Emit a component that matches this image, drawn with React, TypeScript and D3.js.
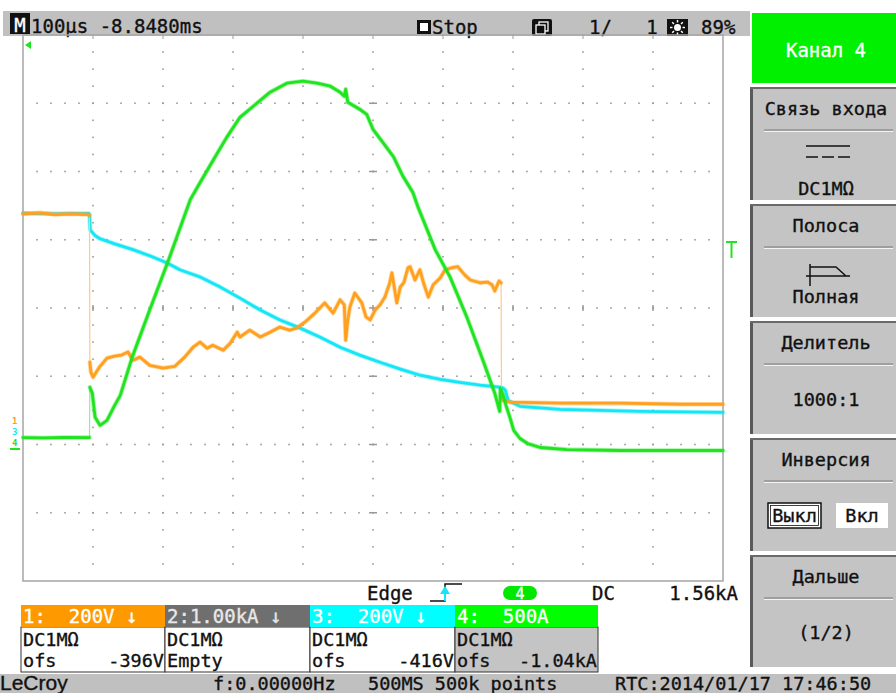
import React from 'react';
import * as d3 from 'd3';

// time: µs from the left edge of the screen (100 µs/div), values in V or A
const ch1Points: [number, number][] = [
  [0, 672], [24, 675], [46, 670], [67, 672], [94, 670], [95, 667], [95.5, 237], [97, 208],
  [100, 193], [110, 225], [120, 249], [131, 255], [141, 258], [150, 267], [157, 243], [167, 252],
  [181, 228], [200, 220], [217, 225], [231, 252], [243, 281], [253, 296], [263, 278], [271, 287],
  [286, 272], [296, 293], [306, 325], [310, 311], [324, 331], [339, 311], [353, 325], [367, 340],
  [381, 331], [391, 337], [403, 355], [417, 381], [431, 411], [443, 381], [453, 420], [459, 405],
  [461, 302], [464, 361], [467, 399], [474, 440], [484, 411], [490, 370], [496, 361], [503, 390],
  [510, 405], [517, 428], [524, 470], [527, 499], [534, 411], [539, 458], [544, 470], [550, 514],
  [553, 517], [560, 478], [567, 508], [573, 464], [579, 428], [586, 464], [596, 484], [603, 508],
  [613, 514], [621, 517], [631, 493], [639, 478], [653, 470], [664, 472], [670, 464], [674, 446],
  [680, 475], [683, 470], [683.5, 140], [686, 125], [696, 120], [767, 117], [853, 117], [939, 114],
  [1000, 114],
];

const ch3Points: [number, number][] = [
  [0, 694], [40, 692], [94, 693], [95, 690], [96, 645], [103, 628], [110, 619], [131, 604],
  [157, 587], [181, 569], [206, 548], [224, 528], [253, 507], [281, 478], [310, 445], [339, 410],
  [367, 381], [396, 357], [424, 331], [453, 301], [481, 278], [510, 257], [539, 237], [567, 219],
  [596, 207], [624, 198], [653, 190], [681, 184], [686, 181], [689, 175], [693, 145], [710, 128],
  [767, 119], [881, 113], [1000, 110],
];

const ch4Points: [number, number][] = [
  [0, 91], [30, 88], [60, 92], [94, 91], [95, 91], [95.5, 459], [99, 415], [103, 239],
  [110, 180], [120, 216], [131, 327], [139, 400], [156, 680], [181, 1025], [207, 1378], [239, 1834],
  [253, 1959], [274, 2143], [291, 2290], [310, 2437], [329, 2518], [353, 2621], [377, 2687], [400, 2702],
  [420, 2687], [439, 2665], [453, 2621], [459, 2591], [461, 2643], [464, 2547], [481, 2496], [491, 2459],
  [500, 2349], [514, 2253], [529, 2150], [543, 2003], [557, 1886], [564, 1783], [589, 1466], [610, 1268],
  [634, 974], [657, 658], [674, 415], [681, 283], [682, 452], [686, 400], [690, 327], [696, 231],
  [701, 143], [710, 84], [721, 47], [739, 18], [777, 3], [853, -4], [1000, -4],
];

// per-div and offset of each channel
const chPerDiv = [200, 1000, 200, 500];
const chOffset = [-396, 0, -416, -1040];

const chHeaders = ['1:  200V ↓', '2:1.00kA ↓', '3:  200V ↓', '4:  500A'];
const chCoupling = ['DC1MΩ', 'DC1MΩ', 'DC1MΩ', 'DC1MΩ'];
const chOfsText = ['-396V', '', '-416V', '-1.04kA'];

const panelTitles = ['Связь входа', 'Полоса', 'Делитель', 'Инверсия', 'Дальше'];
const panelValues = ['DC1MΩ', 'Полная', '1000:1', '', '(1/2)'];

const mono = "'DejaVu Sans Mono', 'Liberation Mono', monospace";
const PL = 23, PR = 723, PT = 35, PB = 581;

function splitEdges(pts: [number, number][], sx: (v: number) => number, sy: (v: number) => number) {
  const out: [number, number][][] = [[]];
  pts.forEach((p, i) => {
    if (i > 0) {
      const q = pts[i - 1];
      if (Math.abs(sy(p[1]) - sy(q[1])) > 40 && sx(p[0]) - sx(q[0]) < 3) out.push([]);
    }
    out[out.length - 1].push(p);
  });
  return out;
}

// slightly emboldened text, like the scope's bitmap font
function Txt(props: any) {
  const { fill = '#111', size = 18.5, children, ...rest } = props;
  return (
    <text fill={fill} stroke={fill} strokeWidth={0.35} fontSize={size} xmlSpace="preserve" {...rest}>
      {children}
    </text>
  );
}

export default function App() {
  const x = d3.scaleLinear().domain([0, 1000]).range([PL, PR]);
  const yDiv = d3.scaleLinear().domain([-4, 4]).range([PB, PT]);
  const yCh = (i: number) =>
    d3.scaleLinear()
      .domain([-chOffset[i] - 4 * chPerDiv[i], -chOffset[i] + 4 * chPerDiv[i]])
      .range([PB, PT]);

  // grid dots
  const dots: [number, number][] = [];
  d3.range(-3, 4).forEach(d => d3.range(20, 1000, 20).forEach(t => dots.push([x(t), yDiv(d)])));
  d3.range(100, 1000, 100).forEach(t => d3.range(-3.75, 4, 0.25).forEach(d => dots.push([x(t), yDiv(d)])));

  const traces = [
    { pts: ch3Points, y: yCh(2), color: '#14e6f6', edge: '#9ff4fb' },
    { pts: ch1Points, y: yCh(0), color: '#ffa01e', edge: '#ffc98a' },
    { pts: ch4Points, y: yCh(3), color: '#1fe41f', edge: '#8cf08c' },
  ];

  const boxColors = ['#ff9900', '#6f6f6f', '#00ffff', '#00ff00'];
  const boxText = ['#ffffff', '#e8e8e8', '#ffffff', '#ffffff'];
  const boxX = [21, 165, 310, 455, 598];
  const panelTop = (i: number) => 87 + 117 * i;

  return (
    <div style={{ position: 'absolute', left: 0, top: 0 }}>
      <svg width={896} height={693} style={{ display: 'block', background: '#fff' }} fontFamily={mono}>
        {/* top status bar */}
        <rect x={3} y={11} width={747} height={25} fill="#c0c0c0" />
        <rect x={10} y={13} width={20} height={21} fill="#111" />
        <Txt x={20} y={32} fill="#fff" size={19} textAnchor="middle">M</Txt>
        <Txt x={31} y={33} size={19}>100µs -8.8480ms</Txt>
        <rect x={417} y={20} width={14} height={14} fill="#111" />
        <rect x={420} y={23} width={8} height={8} fill="#fff" />
        <Txt x={432} y={34} size={19}>Stop</Txt>
        <rect x={532} y={19} width={20} height={17} rx={2} fill="#111" />
        <rect x={539} y={22} width={9} height={9} fill="none" stroke="#fff" strokeWidth={1.3} />
        <rect x={536} y={25} width={9} height={9} fill="#111" stroke="#fff" strokeWidth={1.3} />
        <Txt x={589} y={34} size={19}>{'1/   1'}</Txt>
        <rect x={667} y={19} width={21} height={17} fill="#111" />
        <circle cx={677.5} cy={27.5} r={3.5} fill="#fff" />
        {d3.range(8).map(k => {
          const a = (k * Math.PI) / 4;
          return (
            <line key={k} x1={677.5 + Math.cos(a) * 5} y1={27.5 + Math.sin(a) * 5}
              x2={677.5 + Math.cos(a) * 7.5} y2={27.5 + Math.sin(a) * 7.5} stroke="#fff" strokeWidth={1.5} />
          );
        })}
        <Txt x={701} y={34} size={19}>89%</Txt>

        {/* graticule */}
        {dots.map((d, i) => (
          <rect key={i} x={d[0] - 0.8} y={d[1] - 0.8} width={1.6} height={1.6} fill="#9a9a9a" />
        ))}
        {d3.range(100, 1000, 100).map(t => (
          <line key={'cx' + t} x1={x(t)} x2={x(t)} y1={yDiv(0) - 3} y2={yDiv(0) + 3} stroke="#9a9a9a" strokeWidth={1.5} />
        ))}
        {d3.range(-3, 4).map(d => (
          <line key={'cy' + d} x1={x(500) - 4} x2={x(500) + 4} y1={yDiv(d)} y2={yDiv(d)} stroke="#9a9a9a" strokeWidth={1.5} />
        ))}
        {d3.range(100, 1000, 100).map(t => (
          <line key={'tt' + t} x1={x(t)} x2={x(t)} y1={PT} y2={PT + 4} stroke="#9a9a9a" strokeWidth={1} />
        ))}
        <rect x={PL} y={PT} width={PR - PL} height={PB - PT} fill="none" stroke="#a5a5a5" strokeWidth={1.5} />

        {/* traces */}
        {traces.map((tr, k) => {
          const line = d3.line<[number, number]>().x(d => x(d[0])).y(d => tr.y(d[1]));
          const runs = splitEdges(tr.pts, x, tr.y);
          return (
            <g key={k} strokeLinejoin="round" strokeLinecap="round" fill="none">
              <path d={line(tr.pts) || ''} stroke={tr.edge} strokeWidth={1.2} />
              {runs.map((r, j) => (
                <g key={j}>
                  <path d={line(r) || ''} stroke={tr.color} strokeWidth={4.5} opacity={0.4} />
                  <path d={line(r) || ''} stroke={tr.color} strokeWidth={2.8} />
                </g>
              ))}
            </g>
          );
        })}

        {/* markers */}
        <polygon points="25,45 31,41 31,49" fill="#1fe41f" />
        <line x1={726} x2={737} y1={242} y2={242} stroke="#1fe41f" strokeWidth={2} />
        <line x1={731.5} x2={731.5} y1={242} y2={258} stroke="#1fe41f" strokeWidth={2} />
        <text x={12} y={424} fontSize={9} fill="#ffa01e" fontWeight="bold">1</text>
        <text x={12} y={435} fontSize={9} fill="#14e6f6" fontWeight="bold">3</text>
        <text x={12} y={446} fontSize={9} fill="#1fe41f" fontWeight="bold">4</text>
        <line x1={10} x2={20} y1={449} y2={449} stroke="#1fe41f" strokeWidth={2} />

        {/* right menu */}
        <rect x={752} y={13} width={144} height={70} fill="#00f000" />
        <Txt x={826} y={57} fill="#fff" size={19} textAnchor="middle">Канал 4</Txt>
        {panelTitles.map((title, i) => {
          const top = panelTop(i);
          const bottom = i === 4 ? 667 : top + 113;
          return (
            <g key={title}>
              <rect x={750} y={top} width={146} height={bottom - top} fill="#c4c4c4" />
              <rect x={750} y={top} width={3} height={bottom - top} fill="#5a5a5a" />
              <rect x={750} y={top} width={146} height={2} fill="#6a6a6a" />
              <Txt x={826} y={top + 28} textAnchor="middle">{title}</Txt>
              <line x1={764} x2={893} y1={top + 43} y2={top + 43} stroke="#7a7a7a" strokeWidth={1.2} />
              <line x1={764} x2={893} y1={top + 44.5} y2={top + 44.5} stroke="#f4f4f4" strokeWidth={1} />
            </g>
          );
        })}
        {/* coupling symbol */}
        <line x1={806} x2={850} y1={146} y2={146} stroke="#111" strokeWidth={1.5} />
        {[806, 822, 838].map(s => (
          <line key={s} x1={s} x2={s + 12} y1={157} y2={157} stroke="#111" strokeWidth={1.5} />
        ))}
        <Txt x={826} y={195} textAnchor="middle">{panelValues[0]}</Txt>
        {/* bandwidth symbol */}
        <path d="M806,276 H850 M810,264 V286 M810,267 H836 L846,276" stroke="#111" strokeWidth={1.5} fill="none" />
        <Txt x={826} y={303} textAnchor="middle">{panelValues[1]}</Txt>
        <Txt x={826} y={406} textAnchor="middle">{panelValues[2]}</Txt>
        <rect x={768} y={503} width={53} height={25} fill="#fff" stroke="#111" strokeWidth={1.5} />
        <rect x={770.5} y={505.5} width={48} height={20} fill="none" stroke="#111" strokeWidth={0.8} />
        <Txt x={794.5} y={522} textAnchor="middle">Выкл</Txt>
        <rect x={836} y={503} width={52} height={25} fill="#fff" />
        <Txt x={862} y={522} textAnchor="middle">Вкл</Txt>
        <Txt x={826} y={639} textAnchor="middle">{panelValues[4]}</Txt>

        {/* trigger line */}
        <Txt x={367} y={600} size={19}>Edge</Txt>
        <path d="M430,601 H445 V584 H462" stroke="#111" strokeWidth={1.5} fill="none" />
        <line x1={445} x2={445} y1={592} y2={601} stroke="#14e6f6" strokeWidth={2} />
        <polygon points="445,586 440,594 450,594" fill="#14e6f6" />
        <rect x={503} y={586} width={34} height={14} rx={7} fill="#00e800" />
        <Txt x={520} y={598.5} size={15} fill="#fff" textAnchor="middle">4</Txt>
        <Txt x={592} y={600} size={19}>DC</Txt>
        <Txt x={738} y={600} size={19} textAnchor="end">1.56kA</Txt>

        {/* channel boxes */}
        {chHeaders.map((h, i) => (
          <g key={h}>
            <rect x={boxX[i]} y={627} width={boxX[i + 1] - boxX[i]} height={45}
              fill={i === 3 ? '#c4c4c4' : '#fff'} stroke="#333" strokeWidth={1} />
            <rect x={boxX[i]} y={605} width={boxX[i + 1] - boxX[i]} height={22} fill={boxColors[i]} />
            <Txt x={boxX[i] + 2} y={623} size={19} fill={boxText[i]}>{h}</Txt>
            <Txt x={boxX[i] + 2} y={646}>{chCoupling[i]}</Txt>
            <Txt x={boxX[i] + 2} y={667}>{chOfsText[i] ? 'ofs' : 'Empty'}</Txt>
            {chOfsText[i] && (
              <Txt x={boxX[i + 1] - 1} y={667} textAnchor="end">{chOfsText[i]}</Txt>
            )}
          </g>
        ))}

        {/* bottom status bar */}
        <rect x={0} y={674} width={896} height={19} fill="#c0c0c0" />
        <Txt x={0} y={690} size={21} fontFamily="'Liberation Sans', Arial, sans-serif">LeCroy</Txt>
        <Txt x={213} y={690}>f:0.00000Hz</Txt>
        <Txt x={368} y={690}>500MS 500k points</Txt>
        <Txt x={615} y={690}>RTC:2014/01/17 17:46:50</Txt>
      </svg>
    </div>
  );
}
